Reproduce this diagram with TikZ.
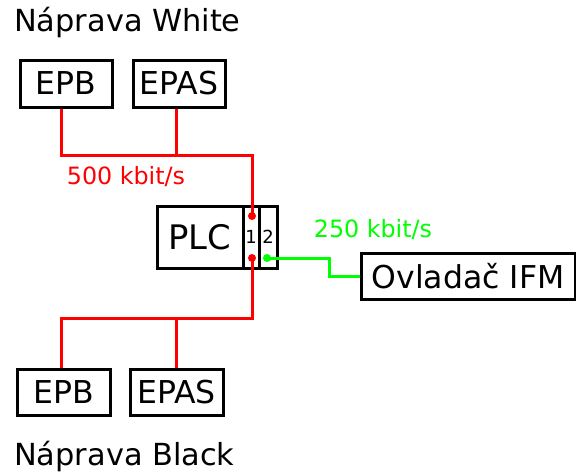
\documentclass[tikz,border=0pt]{standalone}
\usepackage{fontspec}
\setmainfont{DejaVu Sans}
\begin{document}
\begin{tikzpicture}[x=1pt,y=-1pt,
  box/.style={draw=black,line width=3pt,inner sep=0pt,font=\fontsize{31.5}{34}\selectfont},
  redline/.style={draw=red,line width=3pt},
  greenline/.style={draw=green,line width=3pt},
  lab/.style={inner sep=0pt,anchor=west,font=\fontsize{30.4}{34}\selectfont},
  rate/.style={inner sep=0pt,font=\fontsize{23.8}{26}\selectfont}]
\useasboundingbox (0,0) rectangle (576,475);
\node[lab] (tw) at (14,22) {Náprava White};
\node[lab] (tb) at (14,456) {Náprava Black};
\node[box,minimum width=92pt,minimum height=47pt] (epb1) at (66,83.5) {EPB};
\node[box,minimum width=92pt,minimum height=47pt] (epas1) at (179,83.5) {EPAS};
\node[box,minimum width=93pt,minimum height=46pt] (epb2) at (63.5,392) {EPB};
\node[box,minimum width=93pt,minimum height=46pt] (epas2) at (176.5,392) {EPAS};
\node[box,minimum width=86pt,minimum height=62pt,font=\fontsize{33.8}{36}\selectfont] (plc) at (200,237) {PLC};
\node[box,minimum width=16pt,minimum height=62pt,font=\fontsize{18}{20}\selectfont] (p1) at (251,237) {1};
\node[box,minimum width=18pt,minimum height=62pt,font=\fontsize{18}{20}\selectfont] (p2) at (268,237) {2};
\node[box,minimum width=214pt,minimum height=46pt] (ifm) at (468,276) {Ovladač IFM};
\node[rate,text=red] (r500) at (126,177) {500 kbit/s};
\node[rate,text=green] (r250) at (373,230) {250 kbit/s};
\coordinate (d1) at (252,216);
\coordinate (d2) at (252,258);
\coordinate (d3) at (267,258);
\coordinate (tx1) at (61,155);
\coordinate (tx2) at (176,155);
\coordinate (bx1) at (61,318);
\coordinate (bx2) at (176,318);
\coordinate (g1) at (329,258);
\draw[redline] (tx1 |- epb1.south) -- (tx1) -- (tx1 -| d1) -- (d1);
\draw[redline] (tx2 |- epas1.south) -- (tx2);
\draw[redline] (bx1 |- epb2.north) -- (bx1) -- (bx1 -| d2) -- (d2);
\draw[redline] (bx2 |- epas2.north) -- (bx2);
\draw[greenline] (d3) -- (g1) -- (g1 |- ifm.west) -- (ifm.west);
\fill[red] (d1) circle (4);
\fill[red] (d2) circle (4);
\fill[green] (d3) circle (4);
\end{tikzpicture}
\end{document}
